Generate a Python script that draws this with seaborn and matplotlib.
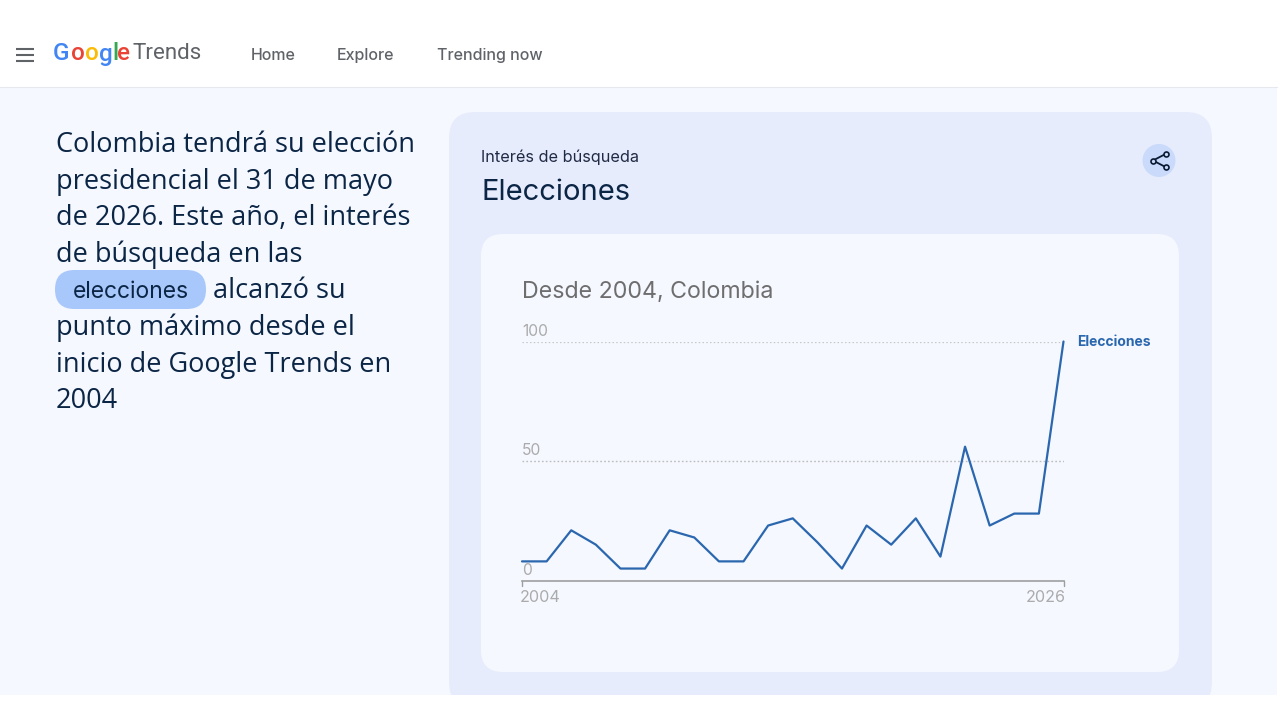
import matplotlib
matplotlib.use("Agg")
import matplotlib.pyplot as plt
from matplotlib.patches import FancyBboxPatch, Rectangle, Circle
import pandas as pd
import seaborn as sns

years = list(range(2004, 2027))
interest = [8, 8, 21, 15, 5, 5, 21, 18, 8, 8, 23, 26, 16, 5, 23, 15, 26, 10, 56, 23, 28, 28, 100]
y_ticks = [0, 50, 100]
x_labels = ["2004", "2026"]
series_name = "Elecciones"
nav_items = ["Home", "Explore", "Trending now"]
logo_letters = ["G", "o", "o", "g", "l", "e"]
logo_colors = ["#4285F4", "#EA4335", "#FBBC05", "#4285F4", "#34A853", "#EA4335"]
body_lines = ["Colombia tendrá su elección", "presidencial el 31 de mayo", "de 2026. Este año, el interés",
              "de búsqueda en las", "", "punto máximo desde el",
              "inicio de Google Trends en", "2004"]

W, H = 1280, 720
sns.set_theme(style="white")
plt.rcParams['font.family'] = ['Inter', 'DejaVu Sans']
fig = plt.figure(figsize=(W / 100, H / 100), dpi=100, facecolor="white")
bg = fig.add_axes([0, 0, 1, 1])
bg.set_xlim(0, W); bg.set_ylim(H, 0); bg.axis("off")


def rounded(x0, y0, x1, y1, r, color, z=1):
    bg.add_patch(FancyBboxPatch((x0 + r, y0 + r), x1 - x0 - 2 * r, y1 - y0 - 2 * r,
                                boxstyle=f"round,pad={r},rounding_size={r}",
                                fc=color, ec="none", zorder=z))


bg.add_patch(Rectangle((0, 87), 1277, 608, fc="#F5F8FF", ec="none", zorder=0))
bg.plot([0, 1277], [86.5, 86.5], color="#E6E8EE", lw=0.8, zorder=1)
rounded(449, 112, 1212, 708, 26, "#E7ECFD", 1)
bg.add_patch(Rectangle((440, 695), 790, 25, fc="white", ec="none", zorder=1.5))
rounded(481, 234, 1179, 672, 22, "#F5F8FF", 2)

# nav
for yy in (49.3, 55, 60.7):
    bg.plot([16, 34], [yy, yy], color="#5F6368", lw=1.5, zorder=3, solid_capstyle="butt")
xs = [53, 70.5, 84.5, 98.5, 112, 116.5]
for x, c, t in zip(xs, logo_colors, logo_letters):
    bg.text(x, 54, t, color=c, fontsize=17.5, va="center", ha="left", family="Roboto", fontweight="medium")
bg.text(132.5, 53.5, "Trends", color="#5F6368", fontsize=16.1, va="center", ha="left", family="Roboto")
for x, t in zip([251, 337, 437], nav_items):
    bg.text(x, 55.5, t, color="#5F6368", fontsize=11.5, va="center", ha="left", fontweight="medium")

# body
for i, line in enumerate(body_lines):
    bg.text(56, 145 + i * 36.6, line, color="#0B2545", fontsize=19.5, va="center", ha="left", zorder=3,
            family="Open Sans")
rounded(55, 270, 206, 309, 19.5, "#A8C7FA", 2)
bg.text(130.5, 291.5, "elecciones", color="#0B2545", fontsize=16.5, va="center", ha="center", zorder=3)
bg.text(213, 291.5, "alcanzó su", color="#0B2545", fontsize=19.5, va="center", ha="left", zorder=3,
        family="Open Sans")

# card header
bg.text(481, 157.5, "Interés de búsqueda", color="#1F2A44", fontsize=11.7, va="center", ha="left", zorder=3)
bg.text(481, 192, series_name, color="#0B2545", fontsize=21, va="center", ha="left", zorder=3)
bg.add_patch(Circle((1159, 160.5), 16.5, fc="#C9DAFB", ec="none", zorder=3))
sx, sy = [1165.5, 1153, 1165.5], [154, 160.5, 167]
bg.plot(sx, sy, color="#0B1B33", lw=1.3, zorder=4)
bg.plot(sx, sy, ls="none", marker="o", ms=3.6, mfc="#C9DAFB", mec="#0B1B33", mew=1.2, zorder=5)
bg.text(522, 291.5, "Desde 2004, Colombia", color="#6E6E6E", fontsize=16.7, va="center", ha="left", zorder=3)

# chart
x0, x1, y_top, y_bot = 522, 1063.5, 341.5, 580.5
ax = fig.add_axes([x0 / W, 1 - y_bot / H, (x1 - x0) / W, (y_bot - y_top) / H], zorder=4)
ax.patch.set_alpha(0)
df = pd.DataFrame({"year": years, "interest": interest})
ax.axhline(50, color="#BDBDBD", lw=1, ls=(0, (1.2, 1.6)), zorder=1)
ax.axhline(100, color="#C8C8C8", lw=0.9, ls=(0, (1.2, 1.8)), zorder=1)
sns.lineplot(data=df, x="year", y="interest", ax=ax, color="#2B67AE", lw=1.6, zorder=3, clip_on=False,
             errorbar=None)
ax.set_xlim(years[0], years[-1]); ax.set_ylim(0, 100)
ax.set_xlabel(""); ax.set_ylabel("")
for s in ("top", "left", "right"):
    ax.spines[s].set_visible(False)
ax.spines["bottom"].set_color("#9E9E9E"); ax.spines["bottom"].set_linewidth(1.2)
ax.set_yticks([])
ax.set_xticks([])
for v in y_ticks:
    ax.annotate(str(v), (years[0], v), xytext=(0, 2), textcoords="offset points",
                color="#ABABAB", fontsize=11.3, va="bottom", ha="left")
for yr, lab, ha, dx in zip((years[0], years[-1]), x_labels, ("left", "right"), (-1.5, 1.5)):
    ax.annotate(lab, (yr, 0), xytext=(dx, -6.5), textcoords="offset points", color="#ABABAB",
                fontsize=11.6, va="top", ha=ha, annotation_clip=False)
    ax.plot([yr, yr], [0, -2.3], color="#9E9E9E", lw=1, clip_on=False, zorder=2)
ax.annotate(series_name, (years[-1], 100), xytext=(9.5, 0), textcoords="offset points",
            color="#2B67AE", fontsize=10, fontweight="bold", va="center", ha="left", annotation_clip=False)
ax.set_xlim(years[0], years[-1]); ax.set_ylim(0, 100)
fig.savefig("out.png", dpi=100, facecolor="white")
